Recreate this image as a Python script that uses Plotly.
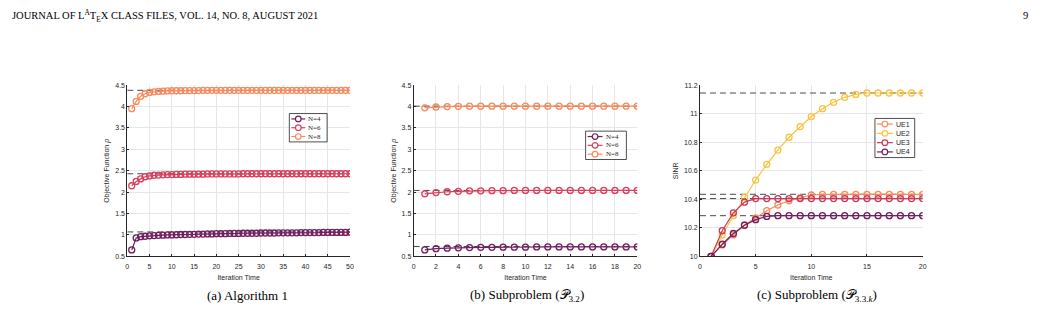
import plotly.graph_objects as go

# ---------------- data ----------------
# (a) Algorithm 1
iter_a = list(range(1, 51))
a_N4 = [0.65, 0.93, 0.96, 0.97, 0.98, 0.985, 0.99, 0.995, 1.0, 1.0,
        1.005, 1.01, 1.01, 1.015, 1.015, 1.02, 1.02, 1.025, 1.025, 1.03,
        1.03, 1.03, 1.035, 1.035, 1.035, 1.04, 1.04, 1.04, 1.04, 1.045,
        1.045, 1.045, 1.045, 1.05, 1.05, 1.05, 1.05, 1.05, 1.055, 1.055,
        1.055, 1.055, 1.055, 1.06, 1.06, 1.06, 1.06, 1.06, 1.06, 1.065]
a_N6 = [2.15, 2.25, 2.31, 2.36, 2.38, 2.395, 2.40, 2.405, 2.41, 2.41,
        2.415, 2.415, 2.42, 2.42, 2.42, 2.42, 2.42, 2.425, 2.425, 2.425,
        2.425, 2.425, 2.425, 2.425, 2.425, 2.43, 2.43, 2.43, 2.43, 2.43,
        2.43, 2.43, 2.43, 2.43, 2.43, 2.43, 2.43, 2.43, 2.43, 2.43,
        2.43, 2.43, 2.43, 2.43, 2.43, 2.43, 2.43, 2.43, 2.43, 2.43]
a_N8 = [3.95, 4.12, 4.24, 4.30, 4.33, 4.345, 4.355, 4.36, 4.365, 4.37,
        4.37, 4.37, 4.375, 4.375, 4.375, 4.375, 4.38, 4.38, 4.38, 4.38,
        4.38, 4.38, 4.38, 4.38, 4.38, 4.38, 4.38, 4.38, 4.38, 4.38,
        4.38, 4.38, 4.38, 4.38, 4.38, 4.38, 4.38, 4.38, 4.38, 4.38,
        4.38, 4.38, 4.38, 4.38, 4.38, 4.38, 4.38, 4.38, 4.38, 4.38]
a_opt = [1.07, 2.43, 4.38]

# (b) Subproblem P3.2
iter_b = list(range(1, 21))
b_N4 = [0.65, 0.68, 0.69, 0.70, 0.705, 0.71, 0.71, 0.715, 0.715, 0.715,
        0.72, 0.72, 0.72, 0.72, 0.72, 0.72, 0.72, 0.72, 0.72, 0.72]
b_N6 = [1.96, 1.99, 2.01, 2.02, 2.03, 2.03, 2.035, 2.035, 2.04, 2.04,
        2.04, 2.04, 2.04, 2.04, 2.04, 2.04, 2.04, 2.04, 2.04, 2.04]
b_N8 = [3.97, 3.99, 4.00, 4.005, 4.01, 4.01, 4.01, 4.01, 4.01, 4.01,
        4.01, 4.01, 4.01, 4.01, 4.01, 4.01, 4.01, 4.01, 4.01, 4.01]
b_opt = [0.73, 2.04, 4.01]

# (c) Subproblem P3.3.k
iter_c = list(range(1, 21))
c_UE1 = [10.0, 10.08, 10.15, 10.22, 10.27, 10.32, 10.36, 10.39, 10.41, 10.43,
         10.435, 10.435, 10.435, 10.435, 10.435, 10.435, 10.435, 10.435, 10.435, 10.435]
c_UE2 = [10.0, 10.15, 10.285, 10.415, 10.535, 10.645, 10.745, 10.835, 10.91, 10.98,
         11.035, 11.08, 11.115, 11.135, 11.145, 11.145, 11.145, 11.145, 11.145, 11.145]
c_UE3 = [10.0, 10.18, 10.305, 10.38, 10.405, 10.405, 10.405, 10.405, 10.405, 10.405,
         10.405, 10.405, 10.405, 10.405, 10.405, 10.405, 10.405, 10.405, 10.405, 10.405]
c_UE4 = [10.0, 10.085, 10.16, 10.218, 10.257, 10.28, 10.285, 10.285, 10.285, 10.285,
         10.285, 10.285, 10.285, 10.285, 10.285, 10.285, 10.285, 10.285, 10.285, 10.285]
c_opt = [10.435, 11.145, 10.405, 10.285]

xlim_a = [0, 50]
xlim_b = [0, 20]
xlim_c = [0, 20]

names_N = ["N=4", "N=6", "N=8"]
names_UE = ["UE1", "UE2", "UE3", "UE4"]

# ---------------- styling ----------------
PURPLE = "#711f5f"
RED = "#d6415d"
ORANGE = "#f78b5e"
YELLOW = "#fbc23f"
CRIMSON = "#c73a5c"
TXT = "#262626"
GRID = "#e6e6e6"
SANS = "Liberation Sans, Arial, sans-serif"
SERIF = "Liberation Serif, Times New Roman, serif"

fig = go.Figure()

W, H = 1041, 319
def px_x(p):
    return p / W
def px_y(p):
    return 1 - p / H

yd = [px_y(258), px_y(83)]
dom = [[px_x(126), px_x(350)], [px_x(414), px_x(639)], [px_x(702), px_x(926)]]

def add_series(x, y, name, color, xa, ya):
    fig.add_trace(go.Scatter(
        x=x, y=y, name=name, mode="lines+markers", xaxis=xa, yaxis=ya,
        showlegend=False,
        line=dict(color=color, width=1.2),
        marker=dict(symbol="circle-open", size=6, color=color, line=dict(width=1.3)),
    ))

def add_opt(xlim, val, xa, ya):
    fig.add_trace(go.Scatter(
        x=xlim, y=[val, val], mode="lines", xaxis=xa, yaxis=ya, showlegend=False,
        line=dict(color="#333333", width=0.9, dash="6px,4px"), hoverinfo="skip",
    ))

# panel a
for v in a_opt:
    add_opt(xlim_a, v, "x", "y")
for y, n, c in zip([a_N4, a_N6, a_N8], names_N, [PURPLE, RED, ORANGE]):
    add_series(iter_a, y, n, c, "x", "y")
# panel b
for v in b_opt:
    add_opt(xlim_b, v, "x2", "y2")
for y, n, c in zip([b_N4, b_N6, b_N8], names_N, [PURPLE, RED, ORANGE]):
    add_series(iter_b, y, n, c, "x2", "y2")
# panel c
for v in c_opt:
    add_opt(xlim_c, v, "x3", "y3")
for y, n, c in zip([c_UE1, c_UE2, c_UE3, c_UE4], names_UE, [ORANGE, YELLOW, CRIMSON, PURPLE]):
    add_series(iter_c, y, n, c, "x3", "y3")

tickfont = dict(family=SANS, size=7, color=TXT)
titlefont = dict(family=SANS, size=7, color=TXT)

def xaxis(d, rng, dtick, anchor):
    return dict(domain=d, range=rng, dtick=dtick, anchor=anchor, showgrid=True,
                gridcolor=GRID, gridwidth=1, zeroline=False, showline=True,
                linecolor=TXT, linewidth=0.8, ticks="inside", ticklen=2,
                tickcolor=TXT, tickfont=tickfont, mirror=False, ticklabelstandoff=3,
                title=dict(text="Iteration Time", font=titlefont, standoff=6))

def yaxis(rng, dtick, anchor, title):
    return dict(domain=yd, range=rng, dtick=dtick, anchor=anchor, showgrid=True,
                gridcolor=GRID, gridwidth=1, zeroline=False, showline=True,
                linecolor=TXT, linewidth=0.8, ticks="inside", ticklen=2,
                tickcolor=TXT, tickfont=tickfont,
                title=dict(text=title, font=titlefont, standoff=4))

fig.update_layout(
    width=W, height=H, margin=dict(l=0, r=0, t=0, b=0),
    paper_bgcolor="white", plot_bgcolor="white",
    xaxis=xaxis(dom[0], xlim_a, 5, "y"),
    yaxis=yaxis([0.5, 4.5], 0.5, "x", "Objective Function <i>ρ</i>"),
    xaxis2=xaxis(dom[1], xlim_b, 2, "y2"),
    yaxis2=yaxis([0.5, 4.5], 0.5, "x2", "Objective Function <i>ρ</i>"),
    xaxis3=xaxis(dom[2], xlim_c, 5, "y3"),
    yaxis3=yaxis([10, 11.2], 0.2, "x3", "SINR"),
    showlegend=False,
)

# ---------- compact MATLAB-style legends (drawn as shapes + text) ----------
def draw_legend(left, top, width, row_h, names, colors, family, line_len, text_gap):
    n = len(names)
    fig.add_shape(type="rect", xref="paper", yref="paper",
                  x0=px_x(left), x1=px_x(left + width),
                  y0=px_y(top + row_h * n + 2), y1=px_y(top),
                  line=dict(color="#222222", width=0.8), fillcolor="white", layer="above")
    for i, (nm, c) in enumerate(zip(names, colors)):
        cy = top + 1 + row_h * (i + 0.5)
        lx0 = left + 2
        lx1 = lx0 + line_len
        fig.add_shape(type="line", xref="paper", yref="paper",
                      x0=px_x(lx0), x1=px_x(lx1), y0=px_y(cy), y1=px_y(cy),
                      line=dict(color=c, width=1.2), layer="above")
        fig.add_shape(type="circle", xref="paper", yref="paper",
                      xsizemode="pixel", ysizemode="pixel",
                      xanchor=px_x((lx0 + lx1) / 2), yanchor=px_y(cy),
                      x0=-2.8, x1=2.8, y0=-2.8, y1=2.8,
                      line=dict(color=c, width=1.2), fillcolor="white", layer="above")
        fig.add_annotation(x=px_x(lx1 + text_gap), y=px_y(cy), xref="paper", yref="paper",
                           xanchor="left", yanchor="middle", text=nm, showarrow=False,
                           font=dict(family=family, size=7, color=TXT))

draw_legend(289, 112, 38, 9, names_N, [PURPLE, RED, ORANGE], SERIF, 14, 1)
draw_legend(587, 130, 41, 9, names_N, [PURPLE, RED, ORANGE], SERIF, 15, 1)
draw_legend(878, 117, 40, 9.5, names_UE, [ORANGE, YELLOW, CRIMSON, PURPLE], SANS, 16, 1)

# header and captions
fig.add_annotation(x=px_x(8), y=px_y(12), xref="paper", yref="paper", xanchor="left", yanchor="middle",
                   text="JOURNAL OF L<sup style='font-size:7px'>A</sup>T<sub>E</sub>X CLASS FILES, VOL. 14, NO. 8, AUGUST 2021",
                   showarrow=False, font=dict(family=SERIF, size=10.5, color="black"))
fig.add_annotation(x=px_x(1034), y=px_y(12), xref="paper", yref="paper", xanchor="right", yanchor="middle",
                   text="9", showarrow=False, font=dict(family=SERIF, size=10.5, color="black"))

captions = ["(a) Algorithm 1",
            "(b) Subproblem (𝒫<sub>3.2</sub>)",
            "(c) Subproblem (𝒫<sub>3.3.<i>k</i></sub>)"]
cap_x = [247, 528, 820]
for t, cx in zip(captions, cap_x):
    fig.add_annotation(x=px_x(cx), y=px_y(298), xref="paper", yref="paper", xanchor="center",
                       yanchor="middle", text=t, showarrow=False,
                       font=dict(family=SERIF, size=13, color="black"))

fig.write_html("out.html")
